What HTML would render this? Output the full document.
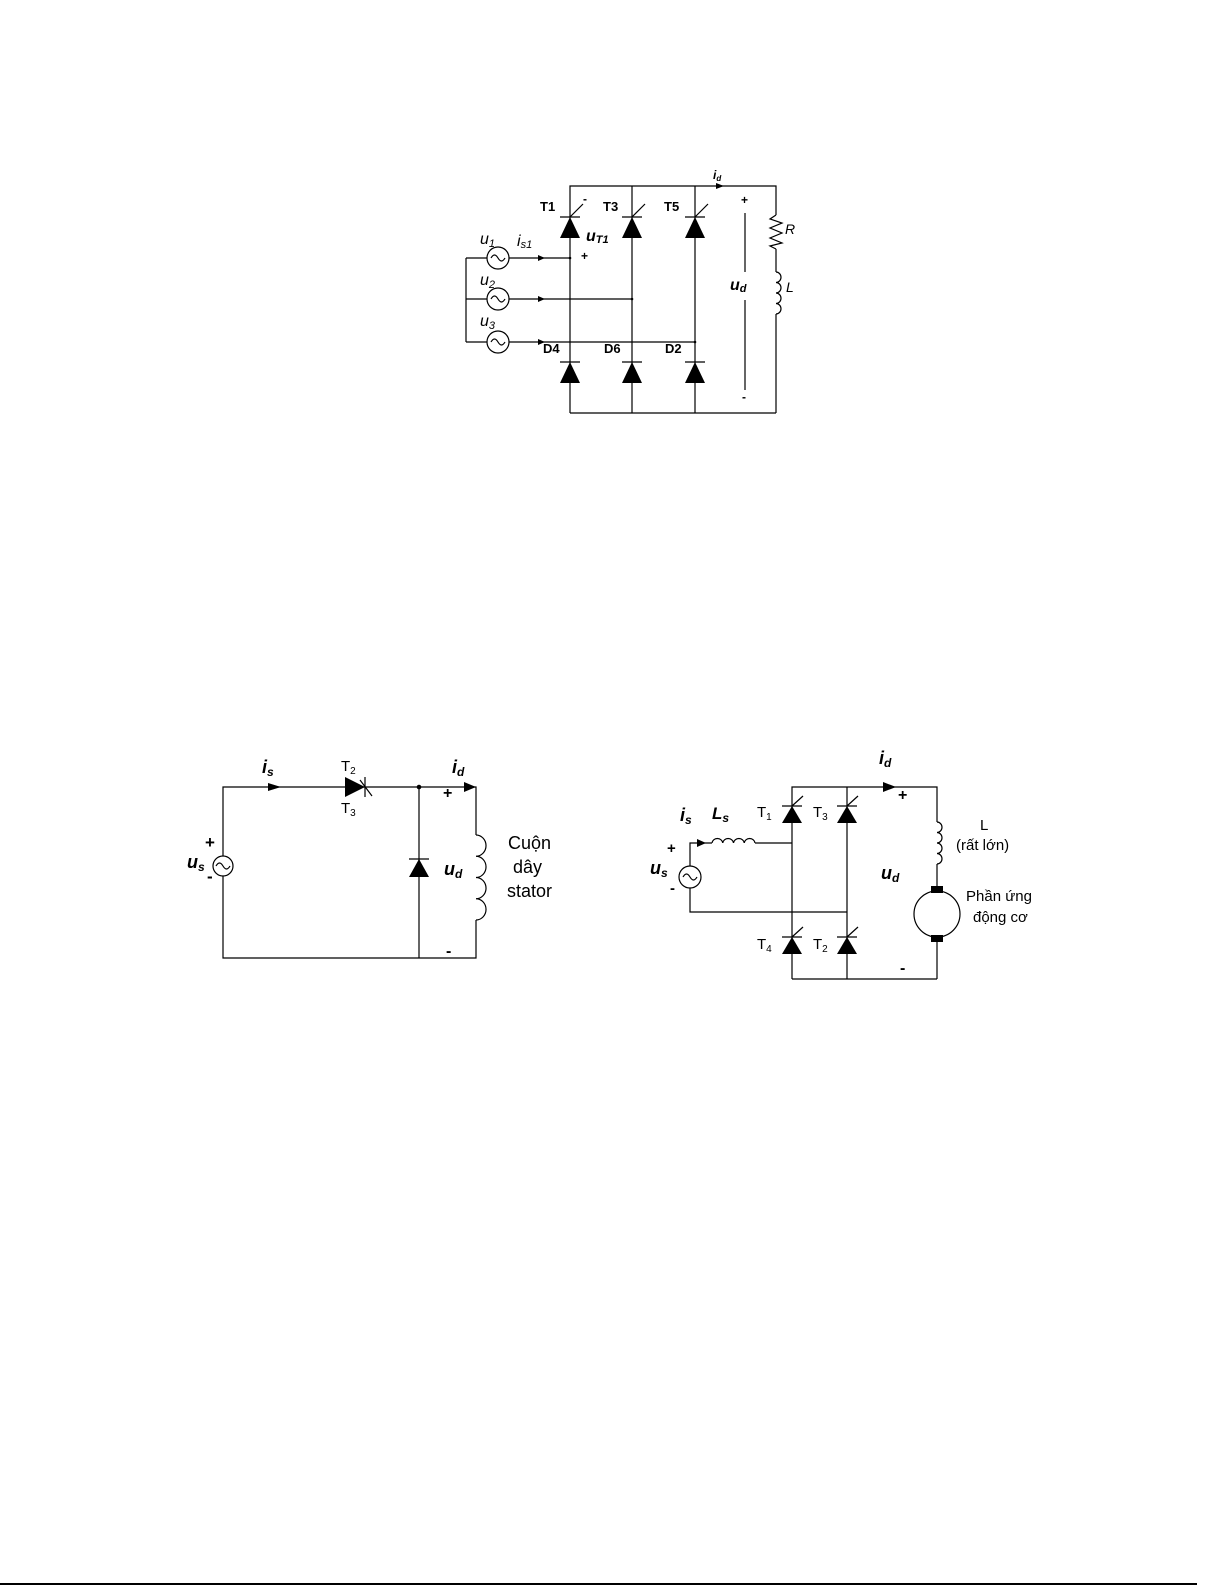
<!DOCTYPE html>
<html><head><meta charset="utf-8"><style>
html,body{margin:0;padding:0;background:#fff;}
svg{display:block;}
text{font-family:"Liberation Sans",Arial,sans-serif;fill:#000;}
</style></head><body>
<svg width="1225" height="1585" viewBox="0 0 1225 1585" xmlns="http://www.w3.org/2000/svg">
<g stroke="#000" stroke-width="1.2" fill="none">
<!-- Diagram 1 -->
<polyline points="570,413 570,186 776,186 776,215"/>
<line x1="632" y1="186" x2="632" y2="413"/>
<line x1="695" y1="186" x2="695" y2="413"/>
<line x1="570" y1="413" x2="776" y2="413"/>
<line x1="776" y1="249" x2="776" y2="272"/>
<line x1="776" y1="314" x2="776" y2="413"/>
<polyline points="776,215 770,219 782,223 770,228 782,233 770,238 782,243 770,246 776,249"/>
<path d="M776,272 a5,5.25 0 0 1 0,10.5 a5,5.25 0 0 1 0,10.5 a5,5.25 0 0 1 0,10.5 a5,5.25 0 0 1 0,10.5"/>
<line x1="466" y1="258" x2="466" y2="342"/>
<line x1="466" y1="258" x2="487" y2="258"/><line x1="509" y1="258" x2="570" y2="258"/>
<line x1="466" y1="299" x2="487" y2="299"/><line x1="509" y1="299" x2="632" y2="299"/>
<line x1="466" y1="342" x2="487" y2="342"/><line x1="509" y1="342" x2="695" y2="342"/>
<circle cx="498" cy="258" r="11"/><circle cx="498" cy="299" r="11"/><circle cx="498" cy="342" r="11"/>
<path d="M491,258 q3.5,-6 7,0 t7,0"/><path d="M491,299 q3.5,-6 7,0 t7,0"/><path d="M491,342 q3.5,-6 7,0 t7,0"/>
<line x1="745" y1="213" x2="745" y2="272"/><line x1="745" y1="300" x2="745" y2="390"/>
<line x1="560" y1="217" x2="580" y2="217"/><line x1="570" y1="217" x2="583" y2="204"/>
<line x1="622" y1="217" x2="642" y2="217"/><line x1="632" y1="217" x2="645" y2="204"/>
<line x1="685" y1="217" x2="705" y2="217"/><line x1="695" y1="217" x2="708" y2="204"/>
<line x1="560" y1="362" x2="580" y2="362"/>
<line x1="622" y1="362" x2="642" y2="362"/>
<line x1="685" y1="362" x2="705" y2="362"/>
</g>
<g fill="#000">
<polygon points="570,217 560,238 580,238"/><polygon points="632,217 622,238 642,238"/><polygon points="695,217 685,238 705,238"/>
<polygon points="570,362 560,383 580,383"/><polygon points="632,362 622,383 642,383"/><polygon points="695,362 685,383 705,383"/>
<polygon points="724,186 716,183 716,189"/>
<polygon points="545,258 538,255 538,261"/><polygon points="545,299 538,296 538,302"/><polygon points="545,342 538,339 538,345"/>
<circle cx="570" cy="258" r="1.3"/><circle cx="632" cy="299" r="1.3"/><circle cx="695" cy="342" r="1.3"/>
</g>
<g font-size="13" font-weight="bold">
<text x="540" y="211">T1</text><text x="603" y="211">T3</text><text x="664" y="211">T5</text>
<text x="543" y="353">D4</text><text x="604" y="353">D6</text><text x="665" y="353">D2</text>
<text x="583" y="203" font-size="12">-</text><text x="581" y="260" font-size="12">+</text>
<text x="741" y="204" font-size="12">+</text><text x="742" y="401" font-size="12">-</text>
</g>
<g font-size="16" font-style="italic">
<text x="480" y="244">u<tspan font-size="11" dy="3">1</tspan></text>
<text x="480" y="285">u<tspan font-size="11" dy="3">2</tspan></text>
<text x="480" y="326">u<tspan font-size="11" dy="3">3</tspan></text>
<text x="517" y="246">i<tspan font-size="11" dy="2">s1</tspan></text>
<text x="586" y="241" font-weight="bold">u<tspan font-size="11" dy="2">T1</tspan></text>
<text x="730" y="290" font-weight="bold">u<tspan font-size="11" dy="2">d</tspan></text>
<text x="713" y="179" font-size="12" font-weight="bold">i<tspan font-size="8" dy="2">d</tspan></text>
<text x="785" y="234" font-size="14">R</text><text x="786" y="292" font-size="14">L</text>
</g>

<!-- Diagram 2 -->
<g stroke="#000" stroke-width="1.2" fill="none">
<polyline points="223,856 223,787 476,787 476,835"/>
<polyline points="223,876 223,958 476,958 476,920"/>
<line x1="419" y1="787" x2="419" y2="958"/>
<circle cx="223" cy="866" r="10"/>
<path d="M216,866 q3.5,-6 7,0 t7,0"/>
<path d="M476,835 a10,10.6 0 0 1 0,21.25 a10,10.6 0 0 1 0,21.25 a10,10.6 0 0 1 0,21.25 a10,10.6 0 0 1 0,21.25"/>
<line x1="365" y1="777" x2="365" y2="797"/><line x1="360" y1="780" x2="372" y2="796"/>
<line x1="409" y1="859" x2="429" y2="859"/>
</g>
<g fill="#000">
<polygon points="365,787 345,777 345,797"/>
<polygon points="419,859 409,877 429,877"/>
<circle cx="419" cy="787" r="2.3"/>
<polygon points="281,787 268,783 268,791"/>
<polygon points="476,787 464,782 464,792"/>
</g>
<g font-size="16" font-weight="bold">
<text x="262" y="773" font-style="italic" font-size="18">i<tspan font-size="12" dy="3">s</tspan></text>
<text x="452" y="773" font-style="italic" font-size="18">i<tspan font-size="12" dy="3">d</tspan></text>
<text x="341" y="771" font-weight="normal" font-size="15">T<tspan font-size="10" dy="3">2</tspan></text>
<text x="341" y="813" font-weight="normal" font-size="15">T<tspan font-size="10" dy="3">3</tspan></text>
<text x="443" y="798">+</text><text x="446" y="956">-</text>
<text x="444" y="875" font-style="italic" font-size="18">u<tspan font-size="12" dy="3">d</tspan></text>
<text x="187" y="868" font-style="italic" font-size="18">u<tspan font-size="12" dy="3">s</tspan></text>
<text x="205" y="848" font-size="17">+</text><text x="207" y="882" font-size="17">-</text>
</g>
<g font-size="18">
<text x="508" y="849">Cuộn</text><text x="513" y="873">dây</text><text x="507" y="897">stator</text>
</g>

<!-- Diagram 3 -->
<g stroke="#000" stroke-width="1.2" fill="none">
<polyline points="792,979 792,787 937,787 937,822"/>
<line x1="847" y1="787" x2="847" y2="979"/>
<line x1="792" y1="979" x2="937" y2="979"/>
<line x1="937" y1="864" x2="937" y2="888"/>
<line x1="937" y1="940" x2="937" y2="979"/>
<path d="M937,822 a5,5.25 0 0 1 0,10.5 a5,5.25 0 0 1 0,10.5 a5,5.25 0 0 1 0,10.5 a5,5.25 0 0 1 0,10.5"/>
<circle cx="937" cy="914" r="23"/>
<polyline points="690,866 690,843 712,843"/>
<path d="M712,843 a5.4,5 0 0 1 10.75,0 a5.4,5 0 0 1 10.75,0 a5.4,5 0 0 1 10.75,0 a5.4,5 0 0 1 10.75,0"/>
<line x1="755" y1="843" x2="792" y2="843"/>
<polyline points="690,888 690,912 847,912"/>
<circle cx="690" cy="877" r="11"/>
<path d="M683,877 q3.5,-6 7,0 t7,0"/>
<line x1="782" y1="806" x2="802" y2="806"/><line x1="792" y1="806" x2="803" y2="796"/>
<line x1="837" y1="806" x2="857" y2="806"/><line x1="847" y1="806" x2="858" y2="796"/>
<line x1="782" y1="937" x2="802" y2="937"/><line x1="792" y1="937" x2="803" y2="927"/>
<line x1="837" y1="937" x2="857" y2="937"/><line x1="847" y1="937" x2="858" y2="927"/>
</g>
<g fill="#000">
<polygon points="792,806 782,823 802,823"/><polygon points="847,806 837,823 857,823"/>
<polygon points="792,937 782,954 802,954"/><polygon points="847,937 837,954 857,954"/>
<rect x="931" y="886" width="12" height="7"/><rect x="931" y="935" width="12" height="7"/>
<polygon points="896,787 883,782 883,792"/>
<polygon points="706,843 697,839 697,847"/>
</g>
<g font-size="16" font-weight="bold">
<text x="879" y="764" font-style="italic" font-size="18">i<tspan font-size="12" dy="3">d</tspan></text>
<text x="898" y="800">+</text><text x="900" y="973">-</text>
<text x="680" y="821" font-style="italic" font-size="18">i<tspan font-size="12" dy="3">s</tspan></text>
<text x="712" y="819" font-style="italic" font-size="17">L<tspan font-size="12" dy="3">s</tspan></text>
<text x="667" y="853" font-size="15">+</text><text x="670" y="893" font-size="15">-</text>
<text x="650" y="874" font-style="italic" font-size="18">u<tspan font-size="12" dy="3">s</tspan></text>
<text x="881" y="879" font-style="italic" font-size="18">u<tspan font-size="12" dy="3">d</tspan></text>
<text x="757" y="817" font-weight="normal" font-size="15">T<tspan font-size="10" dy="3">1</tspan></text>
<text x="813" y="817" font-weight="normal" font-size="15">T<tspan font-size="10" dy="3">3</tspan></text>
<text x="757" y="949" font-weight="normal" font-size="15">T<tspan font-size="10" dy="3">4</tspan></text>
<text x="813" y="949" font-weight="normal" font-size="15">T<tspan font-size="10" dy="3">2</tspan></text>
</g>
<g font-size="15">
<text x="980" y="830">L</text><text x="956" y="850">(rất lớn)</text>
<text x="966" y="901">Phần ứng</text><text x="973" y="922">động cơ</text>
</g>
<line x1="0" y1="1584" x2="1197" y2="1584" stroke="#000" stroke-width="2"/>
</svg>
</body></html>
